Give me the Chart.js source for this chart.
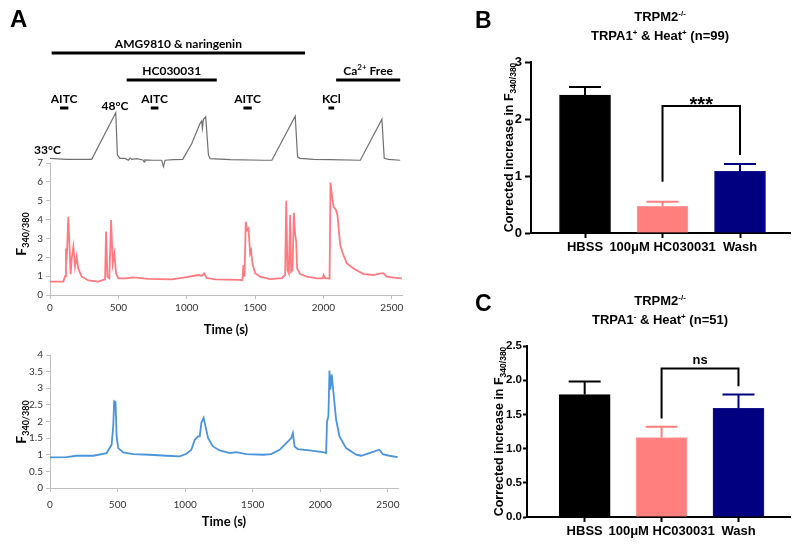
<!DOCTYPE html>
<html>
<head>
<meta charset="utf-8">
<script src="https://cdn.jsdelivr.net/npm/chart.js@4.4.1/dist/chart.umd.min.js"></script>
<style>
body { margin: 0; background: #fff; }
#wrap { position: relative; width: 800px; height: 547px; overflow: hidden; background: #fff; }
canvas { position: absolute; }
</style>
</head>
<body>
<div id="wrap">
  <canvas id="temp_canvas" width="420" height="175" style="left:0;top:0"></canvas>
  <canvas id="red_canvas" width="420" height="202" style="left:0;top:140px"></canvas>
  <canvas id="blue_canvas" width="420" height="194" style="left:0;top:340px"></canvas>
  <canvas id="b_canvas" width="360" height="270" style="left:440px;top:0"></canvas>
  <canvas id="c_canvas" width="360" height="267" style="left:440px;top:280px"></canvas>
</div>
<script>
const temp_color = '#707070';
const red_color = '#ff7a80';
const blue_color = '#4a94dc';
const axis_color = '#bfbfbf';
const barColors = ['#000000', '#ff7f7f', '#000080'];
const barBorders = ['#000000', '#ff9c9c', '#14148c'];

const timeTicks = [0, 500, 1000, 1500, 2000, 2500];

// temperature trace (deg C) over time (s)
const tempTime = [0, 122, 305, 481, 493, 512, 549, 573, 586, 598, 634, 680, 688, 694, 756, 817, 830, 842, 903, 971, 1037, 1098, 1110, 1115, 1122, 1139, 1159, 1171, 1318, 1562, 1623, 1794, 1811, 1830, 1928, 2050, 2270, 2428, 2445, 2477, 2562];
const tempC    = [33.3, 33.0, 33.0, 48.0, 34.4, 33.3, 33.3, 32.7, 33.4, 33.0, 33.2, 32.8, 32.2, 32.8, 32.7, 32.7, 30.6, 32.7, 32.9, 33.0, 38.1, 44.6, 45.3, 43.0, 45.8, 46.7, 34.4, 33.2, 32.9, 32.7, 32.7, 46.9, 33.8, 33.3, 33.0, 32.9, 32.7, 45.9, 33.3, 33.0, 32.7];

// TRPA1+ cell
const redTime  = [0, 98, 110, 117, 122, 134, 141, 151, 159, 171, 183, 195, 207, 232, 281, 354, 403, 410, 420, 434, 447, 459, 471, 483, 500, 549, 610, 720, 891, 988, 1085, 1110, 1127, 1147, 1208, 1379, 1408, 1415, 1423, 1432, 1442, 1452, 1464, 1471, 1481, 1501, 1537, 1610, 1696, 1720, 1728, 1737, 1747, 1757, 1764, 1774, 1784, 1793, 1801, 1808, 1830, 1879, 1952, 1996, 2001, 2013, 2045, 2052, 2064, 2074, 2084, 2093, 2103, 2113, 2123, 2142, 2172, 2220, 2294, 2367, 2416, 2440, 2464, 2513, 2574];
const redRatio = [0.71, 0.71, 1.0, 2.47, 1.85, 4.15, 2.9, 1.1, 1.95, 2.57, 1.5, 2.03, 1.41, 0.97, 0.77, 0.71, 0.83, 3.36, 0.97, 0.88, 3.97, 1.67, 2.2, 1.15, 0.88, 0.88, 0.93, 0.85, 0.83, 0.93, 1.06, 1.02, 1.15, 0.9, 0.83, 0.8, 0.79, 1.59, 0.97, 3.89, 3.44, 3.53, 2.2, 2.36, 1.67, 1.15, 0.97, 0.84, 0.9, 1.06, 5.0, 1.32, 1.15, 4.24, 1.24, 1.32, 4.36, 3.26, 2.82, 1.41, 1.11, 0.97, 0.88, 0.88, 1.06, 0.9, 0.88, 5.96, 5.2, 4.68, 4.6, 4.5, 4.24, 3.44, 2.65, 2.2, 1.67, 1.41, 1.11, 1.06, 1.15, 1.15, 0.97, 0.92, 0.88];

// TRPA1- cell
const blueTime  = [0, 123, 197, 320, 419, 456, 468, 475, 485, 493, 505, 542, 616, 739, 862, 960, 1009, 1046, 1071, 1095, 1108, 1120, 1137, 1150, 1170, 1206, 1256, 1330, 1379, 1453, 1576, 1637, 1699, 1748, 1785, 1797, 1810, 1834, 1920, 2031, 2043, 2050, 2060, 2068, 2075, 2085, 2100, 2117, 2142, 2191, 2265, 2302, 2363, 2437, 2462, 2511, 2573];
const blueRatio = [0.92, 0.93, 0.97, 0.97, 1.05, 1.3, 1.86, 2.61, 2.58, 1.55, 1.2, 1.07, 1.02, 1.0, 0.97, 0.95, 1.03, 1.15, 1.45, 1.55, 1.55, 1.96, 2.11, 1.86, 1.5, 1.25, 1.13, 1.05, 1.08, 1.02, 1.0, 1.02, 1.15, 1.35, 1.5, 1.65, 1.25, 1.17, 1.13, 1.07, 1.05, 2.0, 2.16, 3.53, 2.96, 3.41, 2.76, 2.06, 1.55, 1.2, 1.0, 0.97, 1.05, 1.15, 1.02, 0.97, 0.93];

// drug applications (s)
const drugNames = ['AMG9810 & naringenin', 'HC030031', 'Ca2+ Free', 'AITC', 'AITC', 'AITC', 'KCl'];
const drugStart = [12, 561, 2093, 73, 737, 1415, 2037];
const drugEnd   = [1866, 1220, 2562, 134, 793, 1476, 2079];

// bar panels
const barLabels = ['HBSS', '100\u03bcM HC030031', 'Wash'];
const meanB = [2.42, 0.47, 1.08];
const semB  = [0.14, 0.08, 0.13];
const meanC = [1.79, 1.16, 1.59];
const semC  = [0.19, 0.16, 0.20];
// bracket: from bar, to bar, left end, top, right end
const bracketB = [1, 2, 0.9, 2.23, 1.37];
const bracketC = [1, 2, 1.44, 2.17, 1.91];

const lato = 'Lato';
const arial = 'Liberation Sans';

// draw text made of pieces (for sub/superscripts)
function drawRich(ctx, parts, x, y, align) {
    let total = 0;
    parts.forEach(p => { ctx.font = p.font; p.w = ctx.measureText(p.text).width; total += p.w; });
    let cx = align === 'center' ? x - total / 2 : (align === 'right' ? x - total : x);
    ctx.textAlign = 'left';
    parts.forEach(p => { ctx.font = p.font; ctx.fillText(p.text, cx, y + (p.dy || 0)); cx += p.w; });
}

function ratioLabel(ctx, x, y) {
    ctx.save();
    ctx.translate(x, y);
    ctx.rotate(-Math.PI / 2);
    ctx.fillStyle = '#000';
    ctx.textBaseline = 'alphabetic';
    drawRich(ctx, [
        { text: 'F', font: `bold 14px ${lato}` },
        { text: '340/380', font: `bold 9px ${lato}`, dy: 3 }
    ], 0, 0, 'center');
    ctx.restore();
}

const tempPlugin = {
    id: 'tempNotes',
    afterDraw(chart) {
        const ctx = chart.ctx, xs = chart.scales.x, ys = chart.scales.y;
        const rowY = [53, 80, 80, 108, 108, 108, 108];
        ctx.save();
        ctx.fillStyle = '#000';
        ctx.strokeStyle = '#000';
        ctx.textBaseline = 'alphabetic';
        ctx.font = `bold 24px ${arial}`;
        ctx.textAlign = 'left';
        ctx.fillText('A', 10, 27);
        drugNames.forEach((name, i) => {
            const x1 = xs.getPixelForValue(drugStart[i]);
            const x2 = xs.getPixelForValue(drugEnd[i]);
            ctx.lineWidth = 3;
            ctx.beginPath();
            ctx.moveTo(x1, rowY[i]);
            ctx.lineTo(x2, rowY[i]);
            ctx.stroke();
            const cx = (x1 + x2) / 2, ty = rowY[i] - 5;
            if (name === 'Ca2+ Free') {
                drawRich(ctx, [
                    { text: 'Ca', font: `bold 12px ${lato}` },
                    { text: '2+', font: `bold 8px ${lato}`, dy: -5 },
                    { text: ' Free', font: `bold 12px ${lato}` }
                ], cx, ty, 'center');
            } else {
                ctx.font = `bold 12px ${lato}`;
                ctx.textAlign = 'center';
                ctx.fillText(name, cx, ty);
            }
        });
        ctx.font = `bold 12px ${lato}`;
        ctx.textAlign = 'center';
        ctx.fillText('48\u00b0C', xs.getPixelForValue(475), ys.getPixelForValue(48) - 3);
        ctx.textAlign = 'left';
        ctx.fillText('33\u00b0C', 34, ys.getPixelForValue(33) - 5);
        ctx.restore();
    }
};

new Chart(document.getElementById('temp_canvas'), {
    type: 'line',
    data: {
        datasets: [{
            data: tempTime.map((t, i) => ({ x: t, y: tempC[i] })),
            borderColor: temp_color,
            borderWidth: 1.2,
            pointRadius: 0,
            tension: 0
        }]
    },
    options: {
        responsive: false,
        animation: false,
        layout: { padding: { left: 50, right: 18, top: 105, bottom: 3 } },
        plugins: { legend: { display: false }, tooltip: { enabled: false } },
        scales: {
            x: { type: 'linear', min: 0, max: 2575, display: false },
            y: { min: 28.91, max: 50.48, display: false }
        }
    },
    plugins: [tempPlugin]
});

function traceOptions(yMax, yStep, padTop, padRight, xPad, xHeight) {
    const tickFont = { family: lato, size: 10 };
    return {
        responsive: false,
        animation: false,
        layout: { padding: { left: 0, right: padRight, top: padTop, bottom: 0 } },
        plugins: { legend: { display: false }, tooltip: { enabled: false } },
        scales: {
            x: {
                type: 'linear',
                min: 0,
                max: 2575,
                afterBuildTicks: s => { s.ticks = timeTicks.map(v => ({ value: v })); },
                ticks: { font: tickFont, color: '#333', padding: xPad, maxRotation: 0, autoSkip: false, callback: v => String(v) },
                grid: { drawOnChartArea: false, tickLength: 4, color: axis_color },
                border: { color: axis_color, width: 1 },
                title: {
                    display: true,
                    text: 'Time (s)',
                    color: '#000',
                    font: { family: lato, size: 13, weight: 'bold' },
                    padding: { top: 0, bottom: 4 }
                },
                afterFit: s => { s.height = xHeight; }
            },
            y: {
                min: 0,
                max: yMax,
                ticks: { stepSize: yStep, font: tickFont, color: '#333', padding: 3, callback: v => String(v) },
                grid: { drawOnChartArea: false, tickLength: 4, color: axis_color },
                border: { color: axis_color, width: 1 },
                afterFit: s => { s.width = 50; }
            }
        }
    };
}

new Chart(document.getElementById('red_canvas'), {
    type: 'line',
    data: {
        datasets: [{
            data: redTime.map((t, i) => ({ x: t, y: redRatio[i] })),
            borderColor: red_color,
            borderWidth: 1.8,
            pointRadius: 0,
            tension: 0
        }]
    },
    options: traceOptions(7, 1, 23, 18, 3, 47),
    plugins: [{ id: 'redTitle', afterDraw(chart) { ratioLabel(chart.ctx, 26, 94); } }]
});

new Chart(document.getElementById('blue_canvas'), {
    type: 'line',
    data: {
        datasets: [{
            data: blueTime.map((t, i) => ({ x: t, y: blueRatio[i] })),
            borderColor: blue_color,
            borderWidth: 1.8,
            pointRadius: 0,
            tension: 0
        }]
    },
    options: traceOptions(4, 0.5, 15, 22, 7, 46),
    plugins: [{ id: 'blueTitle', afterDraw(chart) { ratioLabel(chart.ctx, 26, 82); } }]
});

// bar panel with error bars, bracket and headings
function barPanel(canvasId, means, sems, p) {
    const notes = {
        id: 'barNotes',
        afterDatasetsDraw(chart) {
            const ctx = chart.ctx, xs = chart.scales.x, ys = chart.scales.y;
            const meta = chart.getDatasetMeta(0);
            ctx.save();
            ctx.lineWidth = 2;
            meta.data.forEach((bar, i) => {
                const top = ys.getPixelForValue(means[i] + sems[i]);
                ctx.strokeStyle = barColors[i];
                ctx.beginPath();
                ctx.moveTo(bar.x, bar.y);
                ctx.lineTo(bar.x, top);
                ctx.moveTo(bar.x - 16, top);
                ctx.lineTo(bar.x + 16, top);
                ctx.stroke();
            });
            // significance bracket
            const b = p.bracket;
            const x1 = xs.getPixelForValue(b[0]), x2 = xs.getPixelForValue(b[1]);
            const yTop = ys.getPixelForValue(b[3]);
            ctx.strokeStyle = '#000';
            ctx.beginPath();
            ctx.moveTo(x1, ys.getPixelForValue(b[2]));
            ctx.lineTo(x1, yTop);
            ctx.lineTo(x2, yTop);
            ctx.lineTo(x2, ys.getPixelForValue(b[4]));
            ctx.stroke();
            ctx.fillStyle = '#000';
            ctx.textAlign = 'center';
            ctx.textBaseline = 'alphabetic';
            ctx.font = p.markFont;
            ctx.fillText(p.mark, (x1 + x2) / 2, yTop + p.markDy);
            ctx.restore();
        },
        afterDraw(chart) {
            const ctx = chart.ctx, ys = chart.scales.y;
            ctx.save();
            ctx.fillStyle = '#000';
            ctx.textBaseline = 'alphabetic';
            ctx.textAlign = 'left';
            ctx.font = `bold 23px ${arial}`;
            ctx.fillText(p.letter, 35, p.letterY);
            const big = `bold 13px ${arial}`, small = `bold 8px ${arial}`;
            drawRich(ctx, [
                { text: 'TRPM2', font: big },
                { text: '-/-', font: small, dy: -5 }
            ], 220, p.titleY, 'center');
            drawRich(ctx, [
                { text: 'TRPA1', font: big },
                { text: p.sign, font: small, dy: -5 },
                { text: ' & Heat', font: big },
                { text: '+', font: small, dy: -5 },
                { text: ' (n=' + p.n + ')', font: big }
            ], 220, p.titleY + 19, 'center');
            ctx.translate(p.titleX, (ys.top + ys.bottom) / 2);
            ctx.rotate(-Math.PI / 2);
            drawRich(ctx, [
                { text: 'Corrected increase in F', font: `bold 12.5px ${arial}` },
                { text: '340/380', font: `bold 8.5px ${arial}`, dy: 3 }
            ], 0, 0, 'center');
            ctx.restore();
        }
    };

    const tickFont = { family: arial, size: 13, weight: 'bold' };
    return new Chart(document.getElementById(canvasId), {
        type: 'bar',
        data: {
            datasets: [{
                data: means.map((m, i) => ({ x: i, y: m })),
                backgroundColor: barColors,
                borderColor: barBorders,
                borderWidth: 1,
                barThickness: 51
            }]
        },
        options: {
            responsive: false,
            animation: false,
            layout: { padding: { left: 0, right: 10, top: p.padTop, bottom: 0 } },
            plugins: { legend: { display: false }, tooltip: { enabled: false } },
            scales: {
                x: {
                    type: 'linear',
                    offset: false,
                    min: p.xMin,
                    max: p.xMax,
                    afterBuildTicks: s => { s.ticks = [0, 1, 2].map(v => ({ value: v })); },
                    ticks: { font: tickFont, color: '#000', padding: 2, maxRotation: 0, autoSkip: false, callback: v => barLabels[v] },
                    grid: { drawOnChartArea: false, offset: false, tickLength: 5, tickWidth: 2, color: '#000' },
                    border: { color: '#000', width: 2 },
                    afterFit: s => { s.height = p.xHeight; }
                },
                y: {
                    min: 0,
                    max: p.yMax,
                    ticks: { stepSize: p.yStep, font: { family: arial, size: p.yFont, weight: 'bold' }, color: '#000', padding: p.yPad, callback: v => v.toFixed(p.decimals) },
                    grid: { drawOnChartArea: false, tickLength: p.yTick, tickWidth: 2, color: '#000' },
                    border: { color: '#000', width: 2 },
                    afterFit: s => { s.width = p.yWidth; }
                }
            }
        },
        plugins: [notes]
    });
}

barPanel('b_canvas', meanB, semB, {
    yMax: 3, yStep: 1, decimals: 0, yWidth: 91, padTop: 62, xHeight: 37, yFont: 13, yTick: 6, yPad: 3,
    xMin: -0.697, xMax: 2.645, bracket: bracketB, titleX: 73,
    mark: '***', markFont: `bold 20px ${arial}`, markDy: 5,
    letter: 'B', letterY: 28, titleY: 21, sign: '+', n: 99
});

barPanel('c_canvas', meanC, semC, {
    yMax: 2.5, yStep: 0.5, decimals: 1, yWidth: 87, padTop: 66, xHeight: 30, yFont: 11.5, yTick: 4, yPad: 1,
    xMin: -0.75, xMax: 2.67, bracket: bracketC, titleX: 63,
    mark: 'ns', markFont: `bold 13px ${arial}`, markDy: -5,
    letter: 'C', letterY: 31, titleY: 25, sign: '-', n: 51
});
</script>
</body>
</html>
